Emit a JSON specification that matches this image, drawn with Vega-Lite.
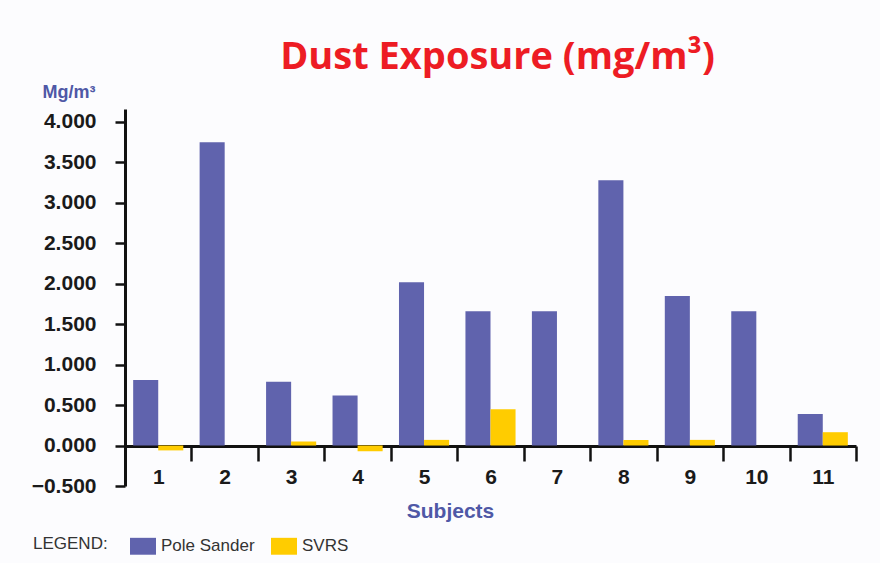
{
  "$schema": "https://vega.github.io/schema/vega-lite/v6.json",
  "autosize": "none",
  "width": 731,
  "height": 377,
  "padding": {"left": 125, "top": 109, "right": 24, "bottom": 77},
  "background": "#fcfcfe",
  "title": {
    "text": "Dust Exposure (mg/m³)",
    "color": "#ed1c24",
    "font": "Open Sans",
    "fontWeight": "bold",
    "fontSize": 38,
    "anchor": "middle",
    "dx": 7,
    "offset": 6
  },
  "data": {
    "values": [
      {"subject": 1, "series": "Pole Sander", "value": 0.81},
      {"subject": 1, "series": "SVRS", "value": -0.06},
      {"subject": 2, "series": "Pole Sander", "value": 3.75},
      {"subject": 2, "series": "SVRS", "value": 0},
      {"subject": 3, "series": "Pole Sander", "value": 0.79},
      {"subject": 3, "series": "SVRS", "value": 0.05},
      {"subject": 4, "series": "Pole Sander", "value": 0.62},
      {"subject": 4, "series": "SVRS", "value": -0.07},
      {"subject": 5, "series": "Pole Sander", "value": 2.02},
      {"subject": 5, "series": "SVRS", "value": 0.07},
      {"subject": 6, "series": "Pole Sander", "value": 1.66},
      {"subject": 6, "series": "SVRS", "value": 0.45},
      {"subject": 7, "series": "Pole Sander", "value": 1.66},
      {"subject": 7, "series": "SVRS", "value": 0},
      {"subject": 8, "series": "Pole Sander", "value": 3.28},
      {"subject": 8, "series": "SVRS", "value": 0.07},
      {"subject": 9, "series": "Pole Sander", "value": 1.85},
      {"subject": 9, "series": "SVRS", "value": 0.07},
      {"subject": 10, "series": "Pole Sander", "value": 1.66},
      {"subject": 10, "series": "SVRS", "value": 0},
      {"subject": 11, "series": "Pole Sander", "value": 0.39},
      {"subject": 11, "series": "SVRS", "value": 0.165}
    ]
  },
  "mark": {"type": "bar", "stroke": null},
  "encoding": {
    "x": {
      "field": "subject",
      "type": "ordinal",
      "scale": {"paddingInner": 0, "paddingOuter": 0},
      "axis": {
        "orient": "bottom",
        "offset": -40,
        "tickBand": "extent",
        "domainColor": "#111111",
        "domainWidth": 3,
        "tickColor": "#111111",
        "tickWidth": 2.5,
        "tickSize": 15,
        "labelAngle": 0,
        "labelFont": "Liberation Sans",
        "labelFontWeight": "bold",
        "labelFontSize": 21,
        "labelColor": "#1a1a1a",
        "labelPadding": 5,
        "title": "Subjects",
        "titleFont": "Liberation Sans",
        "titleFontWeight": "bold",
        "titleFontSize": 21,
        "titleColor": "#4f58a6",
        "titleX": 325,
        "titleY": 65,
        "titleBaseline": "middle",
        "titleAnchor": null,
        "titleAlign": "center"
      }
    },
    "xOffset": {
      "field": "series",
      "type": "nominal",
      "scale": {"paddingInner": 0, "paddingOuter": 0.326}
    },
    "y": {
      "field": "value",
      "type": "quantitative",
      "scale": {"domain": [-0.5, 4.16], "nice": false, "zero": false},
      "axis": {
        "values": [-0.5, 0, 0.5, 1, 1.5, 2, 2.5, 3, 3.5, 4],
        "format": ".3f",
        "grid": false,
        "domainColor": "#111111",
        "domainWidth": 3,
        "tickColor": "#111111",
        "tickWidth": 2.5,
        "tickSize": 10,
        "labelFont": "Liberation Sans",
        "labelFontWeight": "bold",
        "labelFontSize": 21,
        "labelColor": "#1a1a1a",
        "labelPadding": 19,
        "title": "Mg/m³",
        "titleAngle": 0,
        "titleFont": "Liberation Sans",
        "titleFontWeight": "bold",
        "titleFontSize": 18,
        "titleColor": "#4f58a6",
        "titleAlign": "left",
        "titleBaseline": "middle",
        "titleX": -83,
        "titleY": -17
      }
    },
    "color": {
      "field": "series",
      "type": "nominal",
      "scale": {"domain": ["Pole Sander", "SVRS"], "range": ["#6063ad", "#ffcc00"]},
      "legend": {
        "title": "LEGEND:",
        "orient": "none",
        "legendX": -92,
        "legendY": 424,
        "direction": "horizontal",
        "titleOrient": "left",
        "titleFont": "Liberation Sans",
        "titleFontWeight": "normal",
        "titleFontSize": 17,
        "titleColor": "#333333",
        "titlePadding": 22,
        "titleBaseline": "middle",
        "labelFont": "Liberation Sans",
        "labelFontSize": 17,
        "labelColor": "#333333",
        "labelOffset": 5,
        "columnPadding": 16,
        "symbolType": "M-1,-0.65H1V0.65H-1Z",
        "symbolSize": 676,
        "symbolStrokeWidth": 0,
        "symbolOpacity": 1
      }
    }
  },
  "config": {
    "view": {"stroke": null},
    "bar": {"stroke": null}
  }
}
